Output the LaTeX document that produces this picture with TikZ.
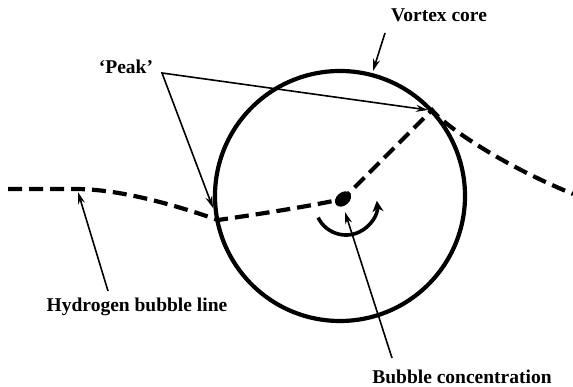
\documentclass[tikz,border=0pt]{standalone}
\usepackage{fontspec}
\setmainfont{Liberation Serif}
\usetikzlibrary{arrows.meta}
\begin{document}
\begin{tikzpicture}[x=1pt,y=1pt,
  lbl/.style={font=\fontsize{19.5}{22}\selectfont\bfseries, inner sep=0pt},
  tip/.style={Stealth[length=12pt,width=7pt]},
  thinarrow/.style={line width=1.6pt, -{Stealth[length=12pt,width=7pt]}},
  dashline/.style={line width=4.2pt, dash pattern=on 14pt off 7pt},
]
\useasboundingbox (0,0) rectangle (573,387);
% vortex core
\node[circle, draw, line width=4.2pt, minimum size=250pt, inner sep=0pt, outer sep=0pt] (core) at (340,191) {};
% hydrogen bubble line
\coordinate (hs) at (8,198);
\coordinate (hk) at (75,198);
\coordinate (lpk) at (218,167);
\coordinate (dotc) at (343,188);
\coordinate (rpk) at (432,277);
\coordinate (he) at (573,193);
\draw[dashline] (hs) -- (hk) .. controls (120,198) and (175,182) .. (lpk)
  .. controls (260,173) and (305,180) .. (dotc) -- (rpk)
  .. controls (442,264) and (495,225) .. (he);
% bubble concentration
\fill[rotate around={40:(dotc)}] (dotc) ellipse [x radius=9pt, y radius=6.5pt];
% rotation arrow
\coordinate (rc) at (346,183);
\draw[line width=3.6pt, -{Stealth[length=11pt,width=11pt]}] ([shift={(206:31)}]rc) arc[start angle=206, end angle=366, radius=31];
% labels
\node[lbl] (peak) at (126,320) {‘Peak’};
\node[lbl] (vortex) at (439,372) {Vortex core};
\node[lbl] (hyd) at (137,80) {Hydrogen bubble line};
\node[lbl] (bub) at (462,10) {Bubble concentration};
% connectors
\coordinate (pj) at (162,314);
\coordinate (p1) at (428,277);
\coordinate (p2) at (213,179);
\draw[line width=1.6pt, {Stealth[length=12pt,width=7pt]}-{Stealth[length=12pt,width=7pt]}] (p2) -- (pj) -- (p1);
\coordinate (vs) at (385,354);
\coordinate (vt) at (373,316);
\draw[thinarrow] (vs) -- (vt);
\coordinate (hys) at (108,96);
\coordinate (hyt) at (78,195);
\draw[thinarrow] (hys) -- (hyt);
\coordinate (bs) at (392,29);
\coordinate (bt) at (345,175);
\draw[thinarrow] (bs) -- (bt);
\end{tikzpicture}
\end{document}
